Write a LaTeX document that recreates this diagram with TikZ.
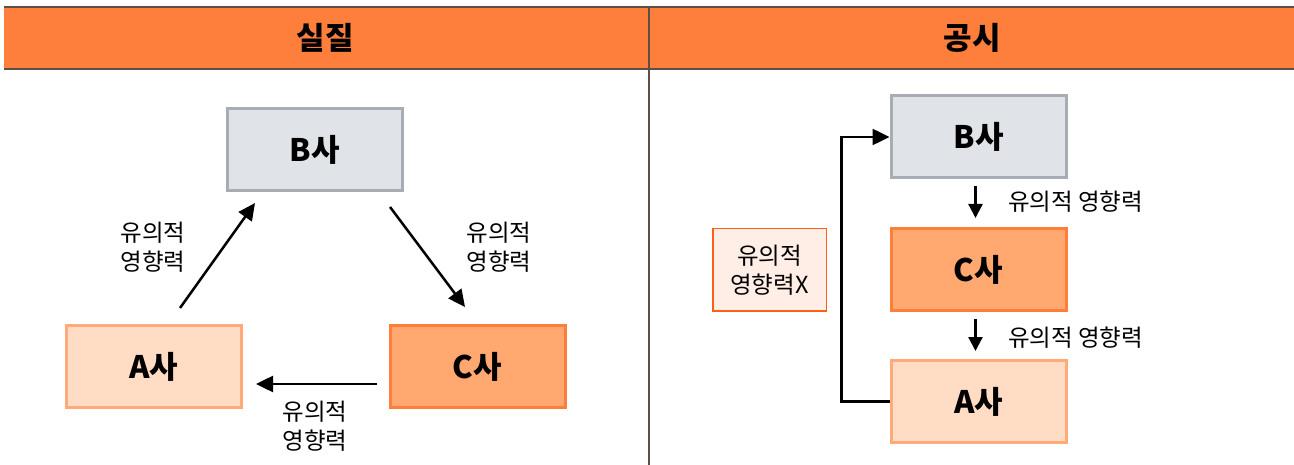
\documentclass[tikz,border=0pt]{standalone}
\usepackage{fontspec}
\setmainfont{Noto Sans CJK KR}
\usetikzlibrary{arrows.meta}
\definecolor{hdr}{HTML}{FE7E3C}
\definecolor{hdrline}{HTML}{5E4E46}
\definecolor{bfill}{HTML}{E0E3E7}
\definecolor{bline}{HTML}{A8ADB5}
\definecolor{cfill}{HTML}{FFA870}
\definecolor{cline}{HTML}{FF7F3A}
\definecolor{afill}{HTML}{FFDCC3}
\definecolor{aline}{HTML}{FFAA78}
\definecolor{xfill}{HTML}{FFEEE5}
\definecolor{xline}{HTML}{FF5E1A}
\begin{document}
\begin{tikzpicture}[x=1pt,y=-1pt,
  box/.style={draw, line width=3pt, minimum width=175pt, minimum height=82pt, inner sep=0pt,
    font=\fontsize{31}{36}\selectfont\bfseries},
  bbox/.style={box, fill=bfill, draw=bline},
  cbox/.style={box, fill=cfill, draw=cline},
  abox/.style={box, fill=afill, draw=aline},
  lbl/.style={font=\fontsize{23.5}{29}\selectfont, align=center, inner sep=0pt},
  head/.style={font=\fontsize{31}{36}\selectfont\bfseries, inner sep=0pt},
  arr/.style={line width=2.5pt, -{Triangle[length=17pt,width=16pt]}},
  arrs/.style={line width=2.3pt, -{Triangle[length=14pt,width=14pt]}}
]
\useasboundingbox (0,0) rectangle (1294,465);
% header band
\fill[hdr] (4,7) rectangle (1294,69);
\draw[hdrline, line width=1.6pt] (4,7) -- (1294,7);
\draw[hdrline, line width=1.6pt] (4,69) -- (1294,69);
\draw[hdrline, line width=1.2pt] (649,7) -- (649,465);
\node[head] (h1) at (325,38) {실질};
\node[head] (h2) at (972,38) {공시};

% left panel
\node[bbox] (B) at (314.5,149.5) {B사};
\node[abox] (A) at (153.5,366.5) {A사};
\node[cbox] (C) at (477.5,366.5) {C사};
\coordinate (ab1) at (180,308);
\coordinate (ab2) at (255,203);
\coordinate (bc1) at (390,207);
\coordinate (bc2) at (465,307);
\coordinate (ca1) at (377,384);
\coordinate (ca2) at (256,384);
\draw[arr] (ab1) -- (ab2);
\draw[arr] (bc1) -- (bc2);
\draw[arr] (ca1) -- (ca2);
\node[lbl] (l1) at (153,247) {유의적\\영향력};
\node[lbl] (l2) at (499,247) {유의적\\영향력};
\node[lbl] (l3) at (315,426) {유의적\\영향력};

% right panel
\node[bbox] (B2) at (978.5,137) {B사};
\node[cbox] (C2) at (978.5,269.5) {C사};
\node[abox] (A2) at (978.5,401.5) {A사};
\node[draw=xline, fill=xfill, line width=1.5pt, minimum width=113.5pt, minimum height=82.5pt,
  inner sep=0pt, font=\fontsize{23.5}{29}\selectfont, align=center] (X) at (769.5,270) {유의적\\영향력X};
\draw[arrs, shorten <=7pt, shorten >=9pt] ([xshift=-3pt]B2.south) -- ([xshift=-3pt]C2.north);
\draw[arrs, shorten <=7pt, shorten >=8pt] ([xshift=-3pt]C2.south) -- ([xshift=-3pt]A2.north);
\node[lbl, anchor=west] (r1) at (1008,202) {유의적 영향력};
\node[lbl, anchor=west] (r2) at (1008,338) {유의적 영향력};
\draw[arr] (A2.west) -- ++(-48,0) |- (B2.west);
\end{tikzpicture}
\end{document}
